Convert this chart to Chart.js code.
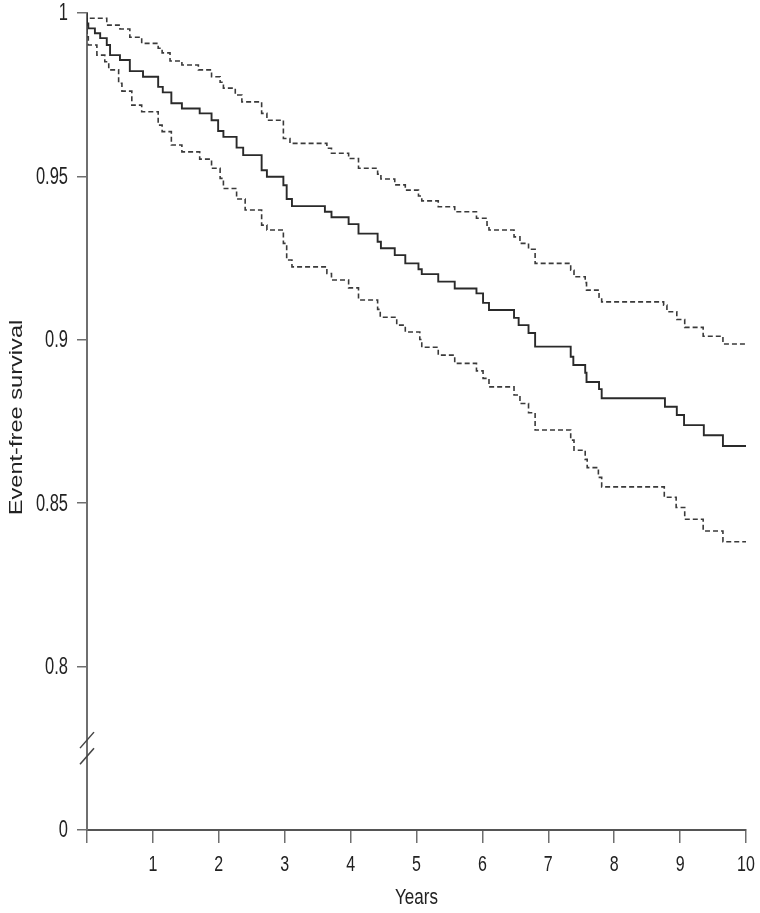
<!DOCTYPE html>
<html>
<head>
<meta charset="utf-8">
<script src="https://cdn.jsdelivr.net/npm/chart.js@4/dist/chart.umd.min.js"></script>
<style>
  html, body { margin: 0; padding: 0; background: #fff; }
  #wrap { width: 760px; height: 913px; }
</style>
</head>
<body>
<div id="wrap"><canvas id="kmChart" width="760" height="913"></canvas></div>
<script>
// survival estimate (solid line)
const estTimes = [0, 0.02, 0.12, 0.20, 0.30, 0.35, 0.50, 0.65, 0.85, 1.08, 1.15, 1.28, 1.44, 1.71, 1.89,
  1.99, 2.07, 2.27, 2.37, 2.65, 2.73, 2.98, 3.03, 3.11, 3.61, 3.71, 3.97, 4.12, 4.41, 4.46,
  4.67, 4.83, 5.03, 5.08, 5.33, 5.58, 5.91, 6.01, 6.10, 6.48, 6.55, 6.70, 6.80, 7.34, 7.38,
  7.56, 7.58, 7.77, 7.81, 8.77, 8.95, 9.06, 9.36, 9.65, 9.96, 10];
const estValues = [1, 0.9968, 0.9953, 0.9938, 0.9923, 0.9902, 0.9871, 0.9856, 0.9822, 0.9805, 0.9774, 0.9757, 0.9724, 0.9708, 0.9693,
  0.9672, 0.9639, 0.9621, 0.9588, 0.9565, 0.9519, 0.9499, 0.9473, 0.9431, 0.9409, 0.9392, 0.9375, 0.9354, 0.9325, 0.9300,
  0.9280, 0.9259, 0.9234, 0.9216, 0.9201, 0.9178, 0.9157, 0.9142, 0.9113, 0.9091, 0.9067, 0.9045, 0.9021, 0.8979, 0.8948,
  0.8923, 0.8899, 0.8871, 0.8849, 0.8821, 0.8795, 0.8770, 0.8739, 0.8708, 0.8675, 0.8675];

// upper confidence limit (dashed)
const upperTimes = [0, 0.30, 0.50, 0.65, 0.83, 1.08, 1.14, 1.26, 1.44, 1.69, 1.89, 2.02, 2.07, 2.25, 2.35,
  2.65, 2.73, 2.98, 3.08, 3.64, 3.71, 3.97, 4.12, 4.41, 4.46, 4.67, 4.83, 5.03, 5.08, 5.33,
  5.58, 5.91, 6.07, 6.10, 6.48, 6.57, 6.70, 6.80, 7.34, 7.39, 7.56, 7.58, 7.77, 7.81, 8.75,
  8.80, 8.95, 9.07, 9.35, 9.65, 9.96, 10];
const upperValues = [1, 0.9984, 0.9963, 0.9951, 0.9926, 0.9907, 0.9892, 0.9878, 0.9853, 0.9841, 0.9826, 0.9805, 0.9788, 0.9770, 0.9749,
  0.9728, 0.9693, 0.9672, 0.9616, 0.9601, 0.9586, 0.9571, 0.9555, 0.9525, 0.9507, 0.9492, 0.9474, 0.9458, 0.9440, 0.9425,
  0.9407, 0.9392, 0.9372, 0.9351, 0.9336, 0.9315, 0.9295, 0.9277, 0.9234, 0.9213, 0.9193, 0.9175, 0.9152, 0.9130, 0.9116,
  0.9106, 0.9086, 0.9062, 0.9038, 0.9011, 0.8987, 0.8987];

// lower confidence limit (dashed)
const lowerTimes = [0, 0.02, 0.15, 0.27, 0.33, 0.48, 0.53, 0.68, 0.83, 1.08, 1.14, 1.28, 1.44, 1.71, 1.89,
  2.02, 2.07, 2.27, 2.40, 2.65, 2.73, 2.98, 3.03, 3.11, 3.64, 3.71, 3.97, 4.12, 4.41, 4.45,
  4.70, 4.83, 5.05, 5.08, 5.33, 5.58, 5.91, 6.01, 6.10, 6.48, 6.57, 6.70, 6.80, 7.34, 7.39,
  7.56, 7.59, 7.76, 7.81, 8.76, 8.94, 9.07, 9.35, 9.65, 9.96, 10];
const lowerValues = [1, 0.9927, 0.9902, 0.9871, 0.9851, 0.9826, 0.9785, 0.9761, 0.9718, 0.9698, 0.9657, 0.9637, 0.9596, 0.9575, 0.9553,
  0.9525, 0.9494, 0.9463, 0.9431, 0.9397, 0.9351, 0.9336, 0.9295, 0.9244, 0.9223, 0.9203, 0.9183, 0.9159, 0.9122, 0.9093,
  0.9069, 0.9045, 0.9024, 0.9001, 0.8977, 0.8953, 0.8928, 0.8905, 0.8882, 0.8856, 0.8831, 0.8805, 0.8777, 0.8724, 0.8693,
  0.8662, 0.8634, 0.8609, 0.8579, 0.8550, 0.8518, 0.8487, 0.8451, 0.8415, 0.8382, 0.8382];

// y axis is broken: the bottom tick stands for 0
const yTickValues = [0.75, 0.8, 0.85, 0.9, 0.95, 1];
const yTickLabels = ["0", "0.8", "0.85", "0.9", "0.95", "1"];
const xTickValues = [0, 1, 2, 3, 4, 5, 6, 7, 8, 9, 10];
const xTickLabels = ["", "1", "2", "3", "4", "5", "6", "7", "8", "9", "10"];

function toPoints(xs, ys) {
  return xs.map((x, i) => ({ x: x, y: ys[i] }));
}

const fontFamily = '"Liberation Sans", Arial, Helvetica, sans-serif';
const textColor = "#222";
const axisColor = "#6f6f6f";

// the original figure is stretched vertically, so its text is tall and narrow
function tallText(ctx, text, x, y, size, stretch, align, rotate) {
  ctx.save();
  ctx.translate(x, y);
  ctx.scale(1, stretch);
  if (rotate) ctx.rotate(-Math.PI / 2);
  ctx.font = size + "px " + fontFamily;
  ctx.fillStyle = textColor;
  ctx.textAlign = align;
  ctx.textBaseline = "middle";
  ctx.fillText(text, 0, 0);
  ctx.restore();
}

const axisText = {
  id: "axisText",
  afterDraw(chart) {
    const ctx = chart.ctx;
    const xs = chart.scales.x;
    const ys = chart.scales.y;
    const x0 = xs.getPixelForValue(0);

    // break marks across the y axis
    ctx.save();
    ctx.strokeStyle = "#444";
    ctx.lineWidth = 1.5;
    [0.7775, 0.7726].forEach(v => {
      const py = ys.getPixelForValue(v);
      ctx.beginPath();
      ctx.moveTo(x0 - 7, py + 8);
      ctx.lineTo(x0 + 7, py - 8);
      ctx.stroke();
    });
    ctx.restore();

    yTickValues.forEach((v, i) => {
      tallText(ctx, yTickLabels[i], ys.right - 19, ys.getPixelForValue(v) + 1, 16.5, 1.4, "right", false);
    });
    xTickValues.forEach((v, i) => {
      tallText(ctx, xTickLabels[i], xs.getPixelForValue(v), xs.top + 35, 16, 1.4, "center", false);
    });
    tallText(ctx, "Years", (xs.left + xs.right) / 2, xs.top + 68, 17, 1.35, "center", false);
    tallText(ctx, "Event-free survival", 17, (ys.top + ys.bottom) / 2 - 4, 17.5, 1.35, "center", true);
  }
};

const lineStyle = {
  stepped: "after",
  pointRadius: 0,
  fill: false,
  tension: 0,
  borderCapStyle: "butt"
};

new Chart(document.getElementById("kmChart").getContext("2d"), {
  type: "line",
  data: {
    datasets: [
      Object.assign({ label: "Upper", data: toPoints(upperTimes, upperValues),
        borderColor: "#3a3a3a", borderWidth: 1.6, borderDash: [5, 3] }, lineStyle),
      Object.assign({ label: "Estimate", data: toPoints(estTimes, estValues),
        borderColor: "#2a2a2a", borderWidth: 1.9 }, lineStyle),
      Object.assign({ label: "Lower", data: toPoints(lowerTimes, lowerValues),
        borderColor: "#3a3a3a", borderWidth: 1.6, borderDash: [5, 3] }, lineStyle)
    ]
  },
  options: {
    responsive: false,
    animation: false,
    layout: { padding: { top: 13, right: 14, left: 0, bottom: 0 } },
    plugins: {
      legend: { display: false },
      tooltip: { enabled: false }
    },
    scales: {
      x: {
        type: "linear",
        min: 0,
        max: 10,
        afterBuildTicks: s => { s.ticks = xTickValues.map(v => ({ value: v })); },
        afterFit: s => { s.height = 83; s.paddingLeft = 0; s.paddingRight = 0; },
        ticks: { display: false },
        grid: { drawOnChartArea: false, tickLength: 13, color: axisColor, lineWidth: 1.5 },
        border: { color: "#555", width: 2 }
      },
      y: {
        min: 0.75,
        max: 1,
        afterBuildTicks: s => { s.ticks = yTickValues.map(v => ({ value: v })); },
        afterFit: s => { s.width = 87; s.paddingTop = 0; s.paddingBottom = 0; },
        ticks: { display: false },
        grid: { drawOnChartArea: false, tickLength: 10, color: axisColor, lineWidth: 1.5 },
        border: { color: axisColor, width: 2 }
      }
    }
  },
  plugins: [axisText]
});
</script>
</body>
</html>
